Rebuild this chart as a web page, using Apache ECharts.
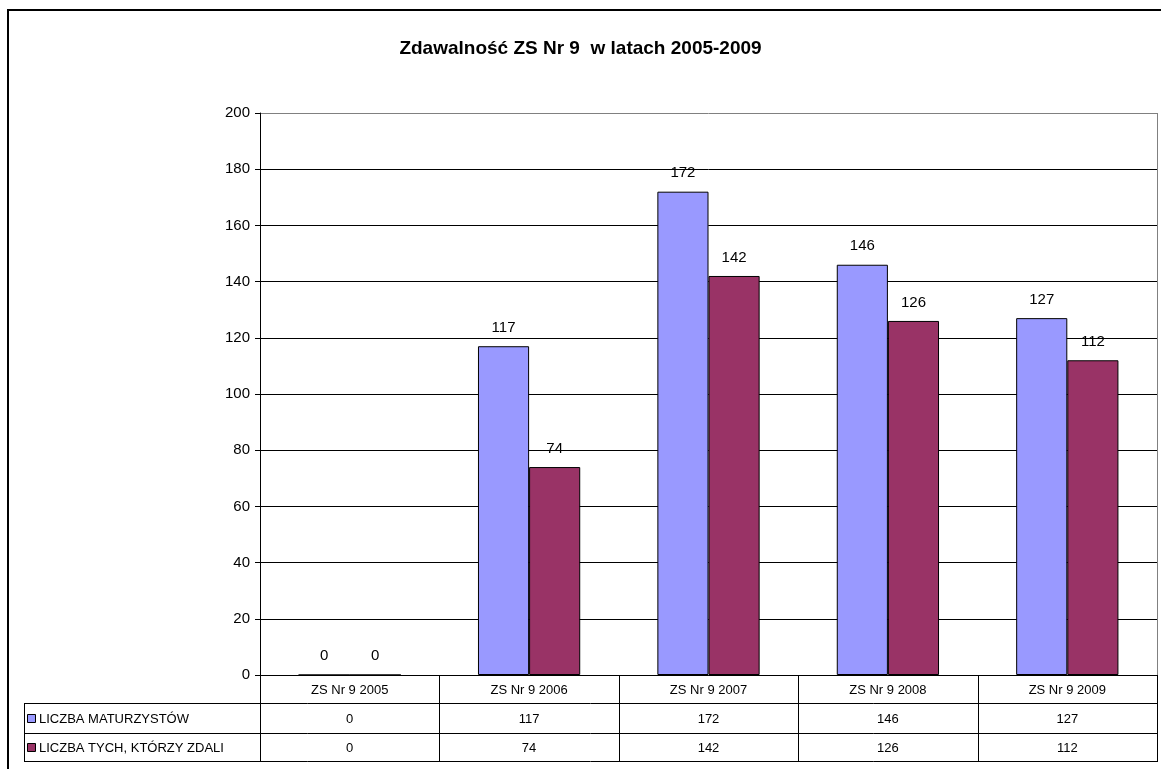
<!DOCTYPE html>
<html>
<head>
<meta charset="utf-8">
<script src="https://cdn.jsdelivr.net/npm/echarts@6/dist/echarts.min.js"></script>
<style>
  html, body { margin: 0; padding: 0; background: #fff; }
  #chart { width: 1161px; height: 769px; }
</style>
</head>
<body>
<div id="chart"></div>
<script>
// dane
const categories = ['ZS Nr 9 2005', 'ZS Nr 9 2006', 'ZS Nr 9 2007', 'ZS Nr 9 2008', 'ZS Nr 9 2009'];
const maturzysci = [0, 117, 172, 146, 127];
const zdali = [0, 74, 142, 126, 112];
const seriesNames = ['LICZBA MATURZYSTÓW', 'LICZBA TYCH, KTÓRZY ZDALI'];
const seriesColors = ['#9999ff', '#993366'];

const font = 'Arial, "Liberation Sans", sans-serif';
const plotLeft = 260;
const plotRight = 1157;
const plotTop = 113;
const plotBottom = 675;
const tableLeft = 24;
const rowLines = [675, 703, 733, 761];

const chart = echarts.init(document.getElementById('chart'));

// tabela danych pod osia X
const buildTable = () => {
  const els = [];
  const cw = (plotRight - plotLeft) / categories.length;
  const line = (x1, y1, x2, y2, color) => ({
    type: 'line',
    shape: { x1, y1, x2, y2 },
    style: { stroke: color || '#000', lineWidth: 1 },
    silent: true,
  });
  const text = (x, y, t, align) => ({
    type: 'text',
    x, y,
    style: { text: t, font: `13px ${font}`, fill: '#000', align: align || 'center', verticalAlign: 'middle' },
    silent: true,
  });

  // poziome linie
  els.push(line(tableLeft, rowLines[1] + 0.5, plotRight, rowLines[1] + 0.5));
  els.push(line(tableLeft, rowLines[2] + 0.5, plotRight, rowLines[2] + 0.5));
  els.push(line(tableLeft, rowLines[3] + 0.5, plotRight, rowLines[3] + 0.5));
  // pionowe linie
  els.push(line(tableLeft + 0.5, rowLines[1], tableLeft + 0.5, rowLines[3]));
  for (let i = 0; i <= categories.length; i++) {
    const x = Math.round(plotLeft + i * cw) + 0.5;
    els.push(line(x, rowLines[0], x, rowLines[3] + 1));
  }
  // naglowki kategorii
  categories.forEach((c, i) => {
    els.push(text(plotLeft + (i + 0.5) * cw, (rowLines[0] + rowLines[1]) / 2 + 1, c));
  });
  // wiersze serii
  [maturzysci, zdali].forEach((vals, r) => {
    const yc = (rowLines[r + 1] + rowLines[r + 2]) / 2 + 1;
    els.push({
      type: 'rect',
      shape: { x: tableLeft + 3.5, y: yc - 4.5, width: 8, height: 8 },
      style: { fill: seriesColors[r], stroke: '#000', lineWidth: 1 },
      silent: true,
    });
    els.push(text(tableLeft + 15, yc, seriesNames[r], 'left'));
    vals.forEach((v, i) => {
      els.push(text(plotLeft + (i + 0.5) * cw, yc, String(v)));
    });
  });
  // ramka wykresu (szara, prawa krawedz)
  els.push(line(plotRight + 0.5, plotTop, plotRight + 0.5, plotBottom, '#808080'));
  // zewnetrzna ramka
  els.push({
    type: 'rect',
    shape: { x: 8, y: 10, width: 1170, height: 800 },
    style: { fill: null, stroke: '#000', lineWidth: 2 },
    silent: true,
  });
  return els;
};

const splitColors = ['#000', '#000', '#000', '#000', '#000', '#000', '#000', '#000', '#000', '#000', '#808080'];

const barSeries = [maturzysci, zdali].map((data, i) => ({
  name: seriesNames[i],
  type: 'bar',
  data,
  barGap: '0%',
  barCategoryGap: '43%',
  itemStyle: { color: seriesColors[i], borderColor: '#000', borderWidth: 1 },
  label: {
    show: true,
    position: 'top',
    distance: 11,
    color: '#000',
    fontFamily: font,
    fontSize: 15,
  },
}));

chart.setOption({
  animation: false,
  backgroundColor: '#fff',
  title: {
    text: 'Zdawalność ZS Nr 9  w latach 2005-2009',
    left: 'center',
    top: 34,
    textStyle: { fontFamily: font, fontSize: 19, fontWeight: 'bold', color: '#000' },
  },
  grid: {
    left: plotLeft,
    right: 1161 - plotRight,
    top: plotTop,
    bottom: 769 - plotBottom,
    containLabel: false,
  },
  xAxis: {
    type: 'category',
    data: categories,
    axisLine: { lineStyle: { color: '#000', width: 1 } },
    axisTick: { show: false },
    axisLabel: { show: false },
  },
  yAxis: {
    type: 'value',
    min: 0,
    max: 200,
    interval: 20,
    axisLine: { show: true, lineStyle: { color: '#000', width: 1 } },
    axisTick: { show: true, length: 5, lineStyle: { color: '#000' } },
    axisLabel: { color: '#000', fontFamily: font, fontSize: 15, margin: 10 },
    splitLine: { show: true, lineStyle: { color: splitColors, width: 1 } },
  },
  series: barSeries,
  graphic: buildTable(),
});
</script>
</body>
</html>
